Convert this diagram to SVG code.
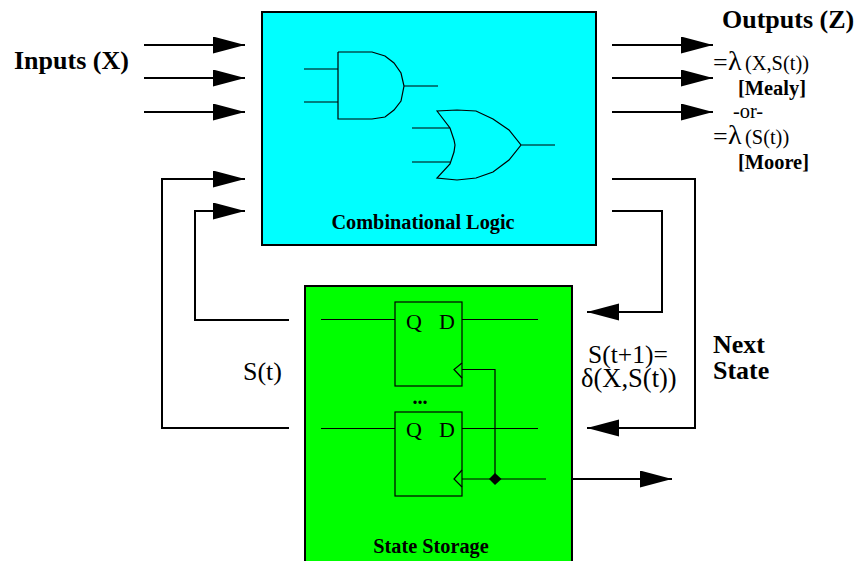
<svg xmlns="http://www.w3.org/2000/svg" width="856" height="561" viewBox="0 0 856 561">
<style>
text{font-family:"Liberation Serif","Times New Roman",serif;fill:#000}
.b{font-weight:bold}
.w{fill:none;stroke:#000;stroke-width:2}
.t{fill:none;stroke:#000;stroke-width:1.2}
.box{stroke:#000;stroke-width:2}
</style>
<defs>
<marker id="a" markerUnits="userSpaceOnUse" markerWidth="34" markerHeight="18" refX="32" refY="8.5" orient="auto"><path d="M0 0L32 8.5L0 17Z" fill="#000"/></marker>
</defs>
<rect width="856" height="561" fill="#fff"/>
<g id="combinational-logic">
<rect class="box" x="262" y="12" width="334" height="233" fill="#0ff"/>
<text class="b" x="423" y="229" font-size="20.3" text-anchor="middle">Combinational Logic</text>
</g>
<g id="and-gate">
<path class="t" d="M304 69H338M304 102H338M338 52V119H372L385 117L394 110L401 101L404 86L401 73L394 63L385 56L372 52H338M404 86H438"/>
</g>
<g id="or-gate">
<path class="t" d="M412 128H450M412 162H450M437 111L450 128L454 140L455 145L454 152L450 164L437 178L457 180L476 178L493 172L509 160L521 145L509 130L493 119L476 111L457 110ZM521 145H555"/>
</g>
<g id="state-storage">
<rect class="box" x="305" y="286" width="267" height="280" fill="#0f0"/>
<text class="b" x="431" y="553" font-size="20.3" text-anchor="middle">State Storage</text>
<text class="b" x="420" y="404" font-size="20.3" text-anchor="middle">...</text>
</g>
<g id="flip-flop-1">
<rect class="t" x="395" y="302" width="67" height="84"/>
<path class="t" d="M321 319.500H395M462 319.500H538M462 363L454 369.500L462 378"/>
<text x="414" y="329" font-size="22" text-anchor="middle">Q</text>
<text x="447" y="329" font-size="22" text-anchor="middle">D</text>
</g>
<g id="flip-flop-2">
<rect class="t" x="395" y="412" width="67" height="84"/>
<path class="t" d="M321 428.500H395M462 428.500H538M462 470L454 479L462 487"/>
<text x="414" y="437" font-size="22" text-anchor="middle">Q</text>
<text x="447" y="437" font-size="22" text-anchor="middle">D</text>
</g>
<g id="connectors">
<path class="w" marker-end="url(#a)" d="M144 45H245"/>
<path class="w" marker-end="url(#a)" d="M144 78H245"/>
<path class="w" marker-end="url(#a)" d="M144 112H245"/>
<path class="w" marker-end="url(#a)" d="M289 428H162V179H245"/>
<path class="w" marker-end="url(#a)" d="M289 320H195V211H245"/>
<path class="w" marker-end="url(#a)" d="M612 45H713"/>
<path class="w" marker-end="url(#a)" d="M612 78H713"/>
<path class="w" marker-end="url(#a)" d="M612 112H713"/>
<path class="w" marker-end="url(#a)" d="M612 211H662V312H587"/>
<path class="w" marker-end="url(#a)" d="M612 179H695V428H587"/>
<path class="w" marker-end="url(#a)" d="M572 479H672"/>
<path class="t" d="M462 369.500H495V479M462 479H546"/>
<path d="M495 473L501.500 479L495 485L489 479Z" fill="#000"/>
</g>
<g id="labels">
<text class="b" x="14" y="69" font-size="26">Inputs (X)</text>
<text class="b" x="722" y="28" font-size="26">Outputs (Z)</text>
<text x="713" y="71" font-size="26">=</text>
<text x="728" y="70" font-size="28" font-family="'DejaVu Serif',serif">λ</text>
<text x="745" y="70" font-size="20.400">(X,S(t))</text>
<text class="b" x="738" y="95" font-size="20.400">[Mealy]</text>
<text x="733" y="118" font-size="20.400">-or-</text>
<text x="713" y="145" font-size="26">=</text>
<text x="728" y="144" font-size="28" font-family="'DejaVu Serif',serif">λ</text>
<text x="745" y="144" font-size="20.400">(S(t))</text>
<text class="b" x="738" y="169" font-size="20.400">[Moore]</text>
<text x="243" y="380" font-size="26">S(t)</text>
<text font-size="25.500"><tspan x="588" y="363">S(t+1)=</tspan><tspan x="581" y="387" font-size="26.500">δ(X,S(t))</tspan></text>
<text class="b" font-size="26"><tspan x="713" y="353">Next</tspan><tspan x="713" y="379">State</tspan></text>
</g>
</svg>
